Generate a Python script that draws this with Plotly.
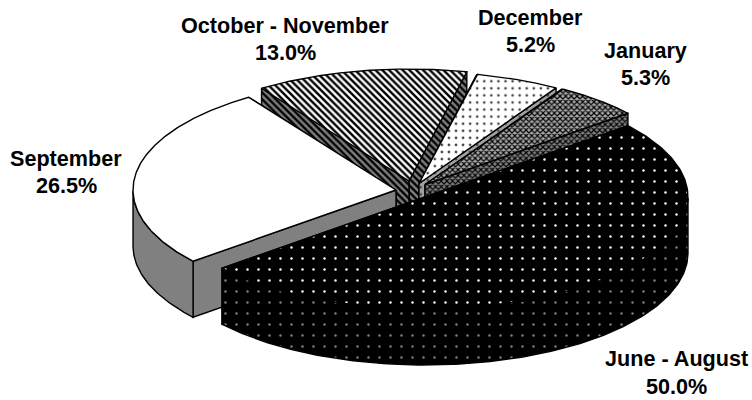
import numpy as np
import plotly.graph_objects as go

# Data
categories = ["June - August", "September", "October - November", "December", "January"]
shares = [50.0, 26.5, 13.0, 5.2, 5.3]
share_labels = ["50.0%", "26.5%", "13.0%", "5.2%", "5.3%"]

# Layout of the tilted, exploded pie (pixel space)
RX, RY, DEPTH = 263, 112, 56
START_ANGLE = 39.5
centers = {
    "June - August": (425, 197),
    "September": (396, 190),
    "October - November": (409, 181),
    "December": (419, 183.5),
    "January": (425, 184.5),
}
label_pos = {
    "June - August": (676, 358, 386),
    "September": (66, 158, 185),
    "October - November": (285, 25, 52),
    "December": (530, 17, 44),
    "January": (645.5, 50, 77),
}


def pat(shape, fg, bg, size, solidity):
    return dict(shape=shape, fgcolor=fg, bgcolor=bg, size=size, solidity=solidity, fillmode="replace")


styles = {
    "June - August": dict(top=pat(".", "#ffffff", "#000000", 11, 0.04), side=pat(".", "#808080", "#000000", 11, 0.04)),
    "September": dict(top=None, side=None, top_color="#ffffff", side_color="#808080"),
    "October - November": dict(top=pat("\\", "#000000", "#ffffff", 4.8, 0.5), side=pat("\\", "#000000", "#808080", 4.8, 0.5)),
    "December": dict(top=pat(".", "#404040", "#ffffff", 7.07, 0.106), side=pat(".", "#404040", "#a0a0a0", 7.07, 0.106)),
    "January": dict(top=pat("x", "#000000", "#a8a8a8", 4, 0.5), side=pat("x", "#000000", "#808080", 4, 0.5)),
}

draw_order = ["October - November", "December", "January", "September", "June - August"]

# angular spans, clockwise from the start angle
spans = {}
a = START_ANGLE
for c, s in zip(categories, shares):
    spans[c] = (a, a - s / 100 * 360)
    a -= s / 100 * 360

fig = go.Figure()


def add_poly(xs, ys, pattern=None, color=None, lw=1.4, line="#000000"):
    kw = dict(fillpattern=pattern) if pattern else dict(fillcolor=color or "#ffffff")
    fig.add_trace(go.Scatter(
        x=xs, y=ys, mode="lines", fill="toself",
        line=dict(color=line, width=lw), hoverinfo="skip", showlegend=False, **kw))


def pt(cx, cy, deg):
    t = np.radians(deg)
    return cx + RX * np.cos(t), cy - RY * np.sin(t)


for name in draw_order:
    cx, cy = centers[name]
    a0, a1 = spans[name]
    st = styles[name]
    side_pat, side_col = st.get("side"), st.get("side_color")

    # radial walls, the further one first
    ends = sorted([a0, a1], key=lambda d: pt(cx, cy, d)[1])
    for d in ends:
        x, y = pt(cx, cy, d)
        add_poly([cx, x, x, cx, cx], [cy, y, y + DEPTH, cy + DEPTH, cy], side_pat, side_col)

    # outer rim (front half only)
    ang = np.linspace(a0, a1, 240)
    front = ang[np.sin(np.radians(ang)) <= 0]
    if len(front) > 1:
        x, y = pt(cx, cy, front)
        add_poly(np.r_[x, x[::-1], x[0]], np.r_[y, y[::-1] + DEPTH, y[0]], side_pat, side_col)

    # top face
    x, y = pt(cx, cy, ang)
    add_poly(np.r_[cx, x, cx], np.r_[cy, y, cy], st.get("top"), st.get("top_color"))

for name, pct in zip(categories, share_labels):
    lx, y1, y2 = label_pos[name]
    for txt, yy in ((name, y1), (pct, y2)):
        fig.add_annotation(x=lx, y=yy, text=f"<b>{txt}</b>", showarrow=False,
                           xanchor="center", yanchor="middle",
                           font=dict(family="Liberation Sans", size=21.6, color="#000000"))

fig.update_xaxes(range=[0, 752], visible=False, fixedrange=True)
fig.update_yaxes(range=[400, 0], visible=False, fixedrange=True)
fig.update_layout(width=752, height=400, margin=dict(l=0, r=0, t=0, b=0),
                  paper_bgcolor="#ffffff", plot_bgcolor="#ffffff", showlegend=False)
fig.write_html("out.html", config=dict(displayModeBar=False),
               post_script="document.body.style.margin='0';document.body.style.overflow='hidden';")
